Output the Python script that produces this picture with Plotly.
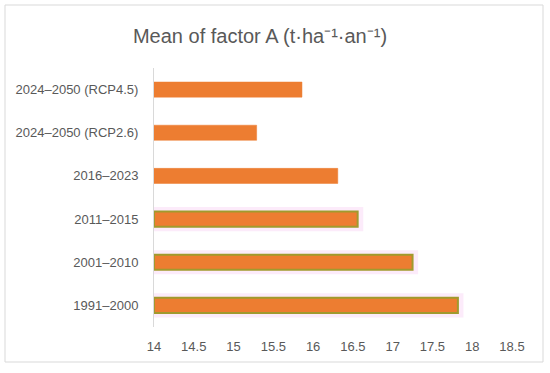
import plotly.graph_objects as go

categories = ["1991–2000", "2001–2010", "2011–2015", "2016–2023",
              "2024–2050 (RCP2.6)", "2024–2050 (RCP4.5)"]
values = [17.82, 17.25, 16.56, 16.31, 15.29, 15.86]
highlighted = [True, True, True, False, False, False]
x_ticks = [14, 14.5, 15, 15.5, 16, 16.5, 17, 17.5, 18, 18.5]
x_tick_labels = ["14", "14.5", "15", "15.5", "16", "16.5", "17", "17.5", "18", "18.5"]

orange = "#ED7D31"
olive = "#A19A2E"
glow = "rgba(250,215,245,0.5)"
grey_text = "#595959"

glow_cats = [c for c, h in zip(categories, highlighted) if h]
glow_vals = [v + 0.07 for v, h in zip(values, highlighted) if h]

fig = go.Figure()
fig.add_trace(go.Bar(
    y=glow_cats, x=[v - 14 for v in glow_vals], base=14, orientation="h",
    width=0.56, marker=dict(color=glow, line=dict(width=0)),
    hoverinfo="skip", showlegend=False,
))
fig.add_trace(go.Bar(
    y=categories, x=[v - 14 for v in values], base=14, orientation="h",
    width=0.35,
    marker=dict(
        color=orange,
        line=dict(color=[olive if h else orange for h in highlighted],
                  width=[2 if h else 0.5 for h in highlighted]),
    ),
    showlegend=False,
))

fig.update_layout(
    width=550, height=373,
    margin=dict(l=154, r=38, t=68, b=46),
    paper_bgcolor="white", plot_bgcolor="white",
    barmode="overlay",
    font=dict(family="Liberation Sans, Arial, sans-serif", color=grey_text, size=12),
    title=dict(text="Mean of factor A (t·ha⁻¹·an⁻¹)", x=260 / 550, xref="container",
               xanchor="center", y=1 - 36 / 373, yref="container", yanchor="middle",
               font=dict(size=20, color=grey_text)),
    xaxis=dict(range=[14, 18.5], tickvals=x_ticks, ticktext=x_tick_labels,
               showgrid=False, zeroline=False, showline=False, automargin=False,
               ticks="", ticklabelstandoff=10, fixedrange=True,
               tickfont=dict(size=13, color=grey_text)),
    yaxis=dict(type="category", categoryorder="array", categoryarray=categories,
               showgrid=False, zeroline=False, showline=True, automargin=False,
               linecolor="#D9D9D9", linewidth=1, ticks="",
               ticklabelstandoff=12, tickfont=dict(size=13, color=grey_text)),
    shapes=[dict(type="rect", xref="paper", yref="paper",
                 x0=(5 - 154) / 358, x1=(543 - 154) / 358,
                 y0=(327 - 362) / 259, y1=(327 - 5) / 259,
                 line=dict(color="#D9D9D9", width=1), fillcolor="rgba(0,0,0,0)",
                 layer="below")],
)

fig.write_html("out.html", config={"displayModeBar": False},
               post_script="document.body.style.margin='0';")
